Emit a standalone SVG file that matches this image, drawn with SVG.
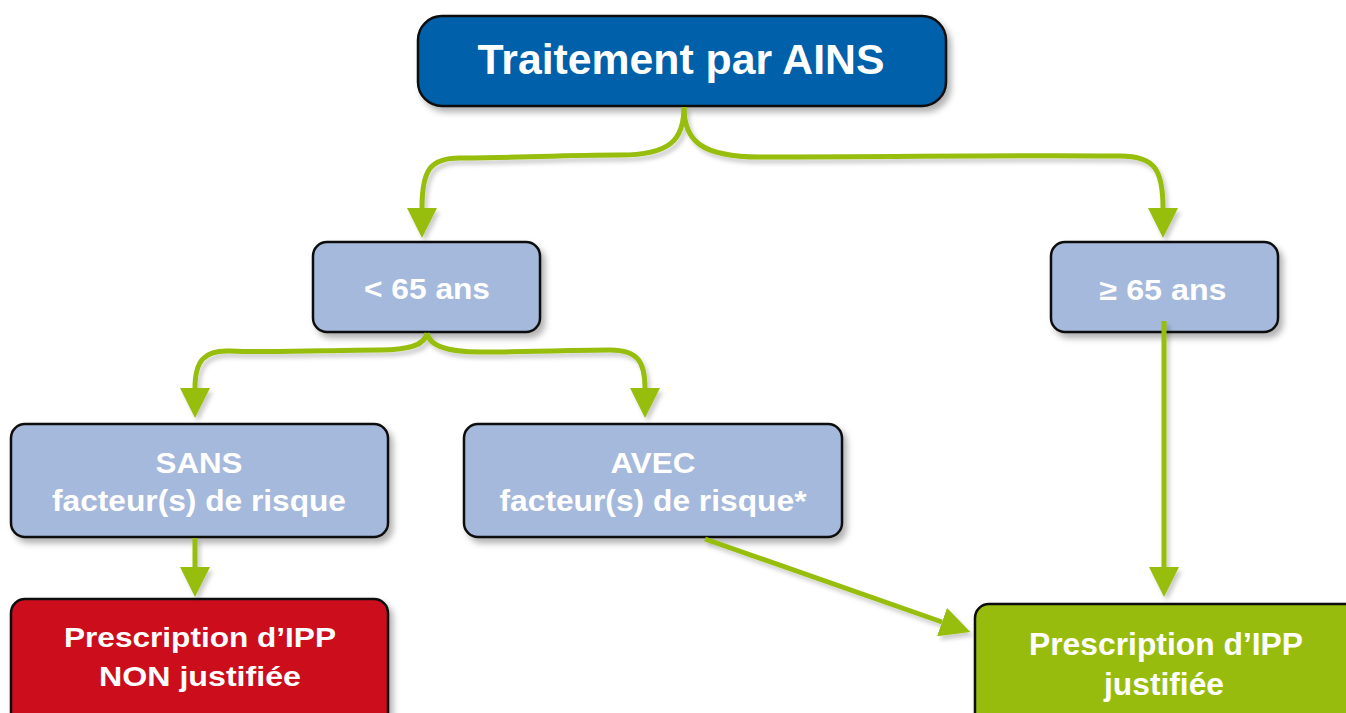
<svg xmlns="http://www.w3.org/2000/svg" width="1346" height="713" viewBox="0 0 1346 713">
<defs>
<filter id="sh" x="-10%" y="-10%" width="130%" height="140%">
<feDropShadow dx="4" dy="5" stdDeviation="3" flood-color="#000" flood-opacity="0.3"/>
</filter>
<filter id="lsh" x="-10%" y="-10%" width="130%" height="130%">
<feDropShadow dx="3" dy="4" stdDeviation="2" flood-color="#000" flood-opacity="0.2"/>
</filter>
<marker id="ah" viewBox="0 0 10 10" refX="0" refY="5" markerWidth="6" markerHeight="6" markerUnits="strokeWidth" orient="auto">
<path d="M0,0 L10,5 L0,10 Z" fill="#97bd0d"/>
</marker>
</defs>
<style>
.box{stroke:#111;stroke-width:2.5;filter:url(#sh)}
.blue{fill:#0060a9}
.lb{fill:#a5b9dc}
.red{fill:#cc0a1f}
.grn{fill:#98bc0c}
.t{font-family:"Liberation Sans",Arial,sans-serif;font-weight:bold;fill:#fff;text-anchor:middle}
.c{fill:none;stroke:#97bd0d;stroke-width:5;marker-end:url(#ah)}
</style>
<g id="n-top">
<rect class="box blue" x="418" y="16" width="528" height="90" rx="24"/>
<text class="t" x="681" y="74" font-size="43" textLength="407" lengthAdjust="spacingAndGlyphs">Traitement par AINS</text>
</g>
<g id="n-lt65">
<rect class="box lb" x="313" y="242" width="227" height="90" rx="14"/>
<text class="t" x="427" y="299" font-size="29" textLength="126" lengthAdjust="spacingAndGlyphs">&lt; 65 ans</text>
</g>
<g id="n-ge65">
<rect class="box lb" x="1051" y="242" width="227" height="90" rx="14"/>
<text class="t" x="1163" y="300" font-size="29" textLength="127" lengthAdjust="spacingAndGlyphs">≥ 65 ans</text>
</g>
<g id="n-sans">
<rect class="box lb" x="11" y="424" width="377" height="113" rx="14"/>
<text class="t" x="199" y="473" font-size="29" textLength="87" lengthAdjust="spacingAndGlyphs">SANS</text>
<text class="t" x="199" y="511" font-size="29" textLength="294" lengthAdjust="spacingAndGlyphs">facteur(s) de risque</text>
</g>
<g id="n-avec">
<rect class="box lb" x="464" y="424" width="378" height="113" rx="14"/>
<text class="t" x="653" y="473" font-size="29" textLength="85" lengthAdjust="spacingAndGlyphs">AVEC</text>
<text class="t" x="653" y="511" font-size="29" textLength="307" lengthAdjust="spacingAndGlyphs">facteur(s) de risque*</text>
</g>
<g id="n-non">
<rect class="box red" x="11" y="599" width="377" height="130" rx="14"/>
<text class="t" x="200" y="647" font-size="28" textLength="272" lengthAdjust="spacingAndGlyphs">Prescription d’IPP</text>
<text class="t" x="200" y="686" font-size="28" textLength="202" lengthAdjust="spacingAndGlyphs">NON justifiée</text>
</g>
<g id="n-just">
<rect class="box grn" x="975" y="604" width="385" height="130" rx="14"/>
<text class="t" x="1166" y="655" font-size="32" textLength="274" lengthAdjust="spacingAndGlyphs">Prescription d’IPP</text>
<text class="t" x="1164" y="695" font-size="32" textLength="120" lengthAdjust="spacingAndGlyphs">justifiée</text>
</g>
<g id="connectors" filter="url(#lsh)">
<path class="c" d="M684,107 C684,140 670,155 620,155 C560,155 520,158 460,158 C430,158 422,170 422,208"/>
<path class="c" d="M684,107 C684,140 700,157 760,157 C900,157 1000,155 1120,156 C1155,156 1163,170 1163,208"/>
<path class="c" d="M427,333 C425,345 410,350 380,350 C330,350 280,353 230,351 C205,350 195,360 195,388"/>
<path class="c" d="M427,333 C429,345 445,352 480,352 C530,352 570,350 610,350 C638,350 645,362 645,388"/>
<path class="c" d="M195,538 L195,567"/>
<path class="c" d="M705,539 L942,622"/>
<path class="c" d="M1164,321 L1164,567"/>
</g>
</svg>
